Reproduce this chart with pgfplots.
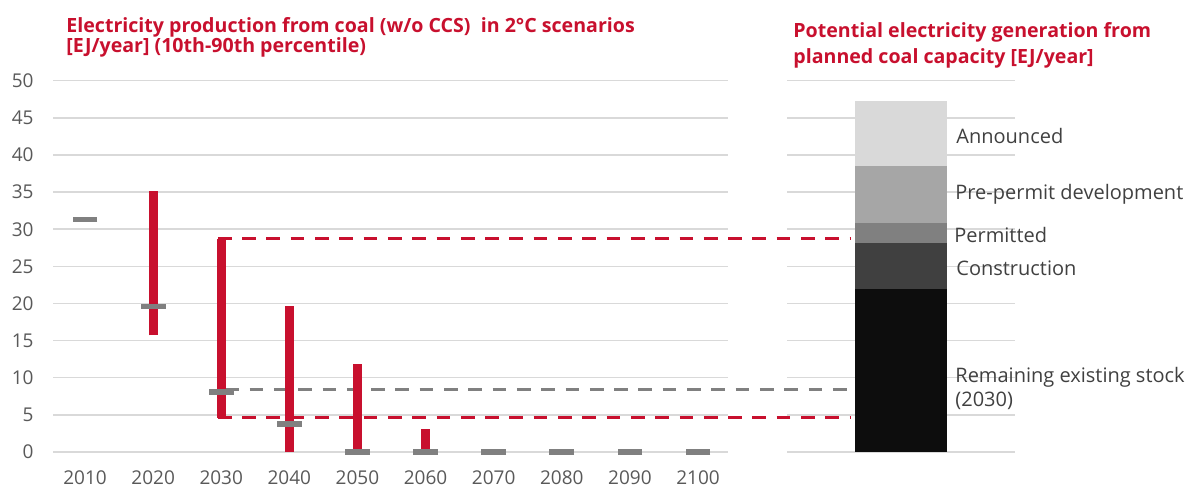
\documentclass[border=0pt]{standalone}
\usepackage{pgfplots}
\pgfplotsset{compat=1.18}
\usepackage{fontspec}
\setmainfont{Open Sans}
\definecolor{cred}{RGB}{200,16,46}
\definecolor{cmed}{RGB}{128,128,128}
\definecolor{cgrid}{RGB}{217,217,217}
\definecolor{ctick}{RGB}{89,89,89}
\definecolor{cann}{RGB}{217,217,217}
\definecolor{cpre}{RGB}{166,166,166}
\definecolor{cper}{RGB}{128,128,128}
\definecolor{ccon}{RGB}{64,64,64}
\definecolor{crem}{RGB}{13,13,13}
\definecolor{clab}{RGB}{64,64,64}
\begin{document}
\begin{tikzpicture}
\useasboundingbox (0,0) rectangle (593.5pt,243.5pt);
\pgfplotsset{
  common/.style={
    scale only axis, anchor=south west, height=185.65pt,
    ymin=0, ymax=50, ytick={0,5,...,50},
    ymajorgrids, grid style={cgrid, line width=0.75pt},
    axis line style={draw=none}, major tick length=0,
    tick label style={font=\fontsize{9.5}{11}\selectfont, color=ctick},
    /pgf/number format/assume math mode=true,
    clip=false,
  }
}
% ---------------- left axis ----------------
\begin{axis}[common,
  at={(26.5pt,17.5pt)}, width=337.5pt,
  xmin=2005.3, xmax=2104.4,
  xtick={2010,2020,...,2100},
  xticklabel style={/pgf/number format/1000 sep={}, inner sep=0pt, anchor=north, yshift=-9.3pt},
  yticklabel style={xshift=-6.2pt},
]
% reference dashed lines
\addplot[cred, line width=1.5pt, dash pattern=on 6.85pt off 5.3pt] coordinates {(2029.5,28.8) (2122.5,28.8)};
\addplot[cmed, line width=1.5pt, dash pattern=on 6.85pt off 5.3pt] coordinates {(2030.6,8.35) (2122.5,8.35)};
\addplot[cred, line width=1.5pt, dash pattern=on 6.85pt off 5.3pt] coordinates {(2029.5,4.65) (2122.5,4.65)};
% 10th-90th percentile ranges
\addplot[cred, line width=4.6pt, unbounded coords=jump] coordinates {
  (2020,15.7) (2020,35.1) (2020,nan)
  (2030,4.6) (2030,28.7) (2030,nan)
  (2040,0) (2040,19.6) (2040,nan)
  (2050,0) (2050,11.8) (2050,nan)
  (2060,0) (2060,3.1)
};
% medians
\addplot[only marks, mark=-, mark size=6.2pt, mark options={draw=cmed, line width=2.8pt}] coordinates {
  (2010,31.3) (2020,19.6) (2030,8.1) (2040,3.8) (2050,0)
  (2060,0) (2070,0) (2080,0) (2090,0) (2100,0)
};
\end{axis}
% ---------------- right axis ----------------
\begin{axis}[common,
  at={(393.5pt,17.5pt)}, width=114pt,
  xmin=0, xmax=1, xtick=\empty, yticklabels={},
  ybar stacked, bar width=45.8pt,
]
\addplot[fill=crem, draw=none] coordinates {(0.5,21.9)};
\addplot[fill=ccon, draw=none] coordinates {(0.5,6.2)};
\addplot[fill=cper, draw=none] coordinates {(0.5,2.7)};
\addplot[fill=cpre, draw=none] coordinates {(0.5,7.7)};
\addplot[fill=cann, draw=none] coordinates {(0.5,8.7)};
\end{axis}
% ---------------- titles ----------------
\begin{scope}[every node/.style={inner sep=0pt, anchor=base west, text=cred, font=\fontsize{9.8}{11}\selectfont\bfseries}]
\node at (33pt,227.15pt) {Electricity production from coal (w/o CCS)\ \ in 2°C scenarios};
\node at (33pt,217.15pt) {[EJ/year] (10th-90th percentile)};
\node at (396.5pt,224.65pt) {Potential electricity generation from};
\node at (396.5pt,211.85pt) {planned coal capacity [EJ/year]};
\end{scope}
% ---------------- stack labels ----------------
\begin{scope}[every node/.style={inner sep=0pt, anchor=base west, text=clab, font=\fontsize{10}{12}\selectfont}]
\node at (478pt,171.5pt) {Announced};
\node at (477.5pt,143.5pt) {Pre-permit development};
\node at (477pt,122.2pt) {Permitted};
\node at (478pt,105.5pt) {Construction};
\node at (477.5pt,52.2pt) {Remaining existing stock};
\node at (477.5pt,40.5pt) {(2030)};
\end{scope}
\end{tikzpicture}
\end{document}
